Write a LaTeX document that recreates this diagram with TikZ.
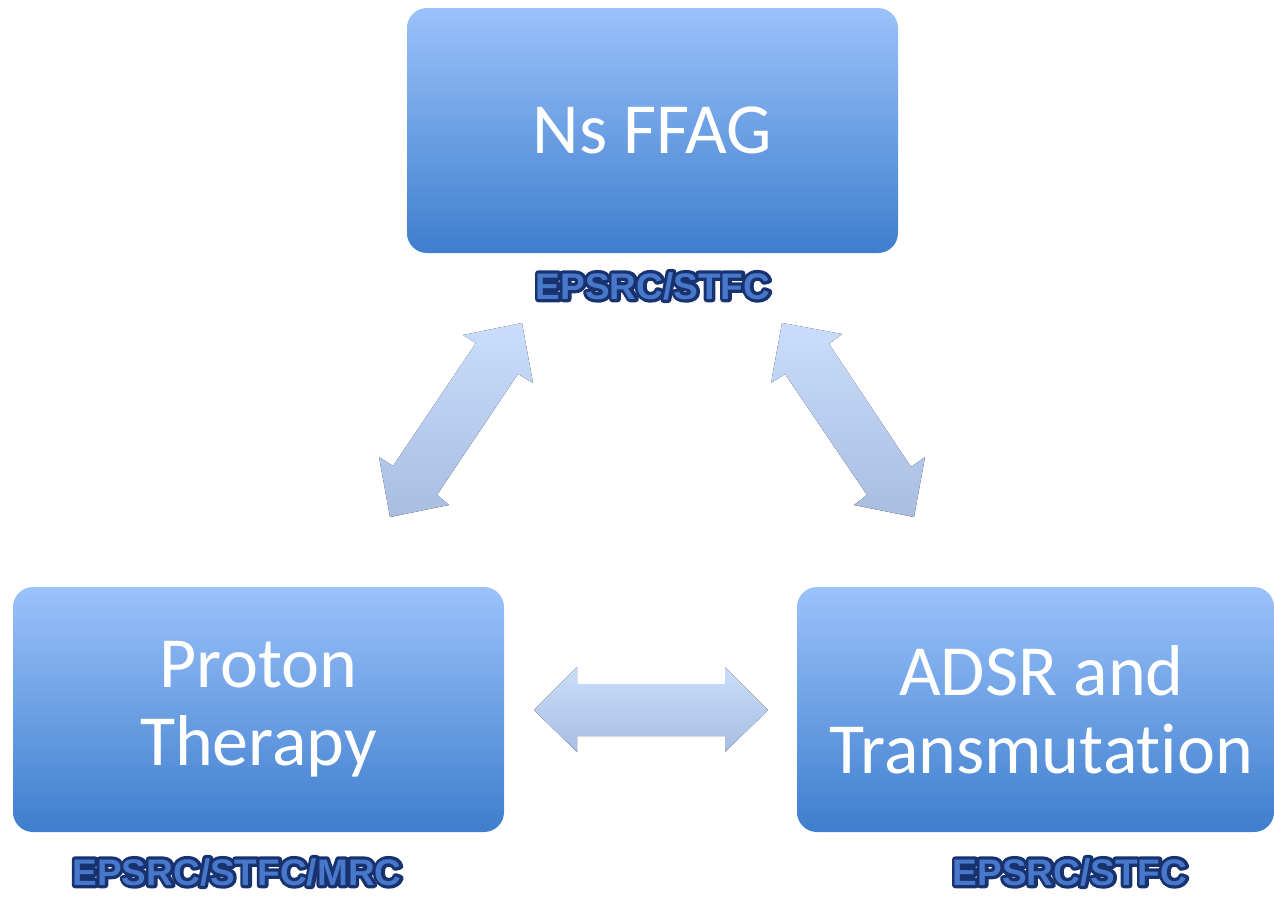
\documentclass[tikz,border=0pt]{standalone}
\usepackage{fontspec}
\setmainfont{Carlito}[Ligatures=NoCommon]
\newfontfamily\labelfont{Liberation Sans}
\usetikzlibrary{shapes.misc}
\definecolor{boxtop}{RGB}{155,194,251}
\definecolor{boxbot}{RGB}{62,126,205}
\definecolor{arrtop}{RGB}{202,221,252}
\definecolor{arrbot}{RGB}{168,189,224}
\definecolor{labblue}{RGB}{72,120,202}
\tikzset{
  labelface/.style={font=\labelfont\bfseries\fontsize{37}{40}\selectfont, inner sep=0pt},
  bigbox/.style={rounded corners=20pt, top color=boxtop, bottom color=boxbot,
    draw=none, text=white, align=center, inner sep=0pt,
    font=\fontsize{72}{78}\selectfont},
  blockarrow/.style={top color=arrtop, bottom color=arrbot, draw=none},
  funder/.style={labelface, text=labblue},
  funderedge/.style={labelface}
}
\newcommand{\strokedtext}[1]{\special{pdf:literal direct 2 Tr 6.5 w 1 j 1 J 0.094 0.196 0.439 RG 0.094 0.196 0.439 rg}#1\special{pdf:literal direct 0 Tr 1 w}}
\begin{document}
\begin{tikzpicture}[x=1pt,y=-1pt]
\useasboundingbox (0,0) rectangle (1274,897);
% boxes
\node[bigbox, minimum width=491pt, minimum height=245pt] (ns) at (652.5,130.5) {Ns FFAG};
\node[bigbox, minimum width=491pt, minimum height=245pt] (pt) at (258.5,709.5) {Proton\\Therapy};
\node[bigbox, minimum width=477pt, minimum height=245pt] (adsr) at (1035.5,709.5) {\hspace*{12pt}ADSR and\\\hspace*{12pt}Transmutation};
% funder labels: dark edge under, blue face on top
\node[funderedge] (lnsedge) at (653,286) {\strokedtext{EPSRC/STFC}};
\node[funder] (lns) at (lnsedge) {EPSRC/STFC};
\node[funderedge] (lptedge) at (237,872) {\strokedtext{EPSRC/STFC/MRC}};
\node[funder] (lpt) at (lptedge) {EPSRC/STFC/MRC};
\node[funderedge] (ladsredge) at (1070,872) {\strokedtext{EPSRC/STFC}};
\node[funder] (ladsr) at (ladsredge) {EPSRC/STFC};
% block arrows
\fill[blockarrow] (522,323) -- (533,383) -- (518,374) -- (437,495) -- (449,505)
  -- (390,517) -- (379,457) -- (393,466) -- (476,343) -- (463,335) -- cycle;
\fill[blockarrow] (782,323) -- (842,334) -- (829,344) -- (911,467) -- (925,457)
  -- (914,517) -- (854,505) -- (867,495) -- (785,374) -- (771,383) -- cycle;
\fill[blockarrow] (534,710) -- (577,667) -- (577,684) -- (725,684) -- (725,667)
  -- (768,710) -- (725,752) -- (725,736) -- (577,736) -- (577,752) -- cycle;
\end{tikzpicture}
\end{document}
